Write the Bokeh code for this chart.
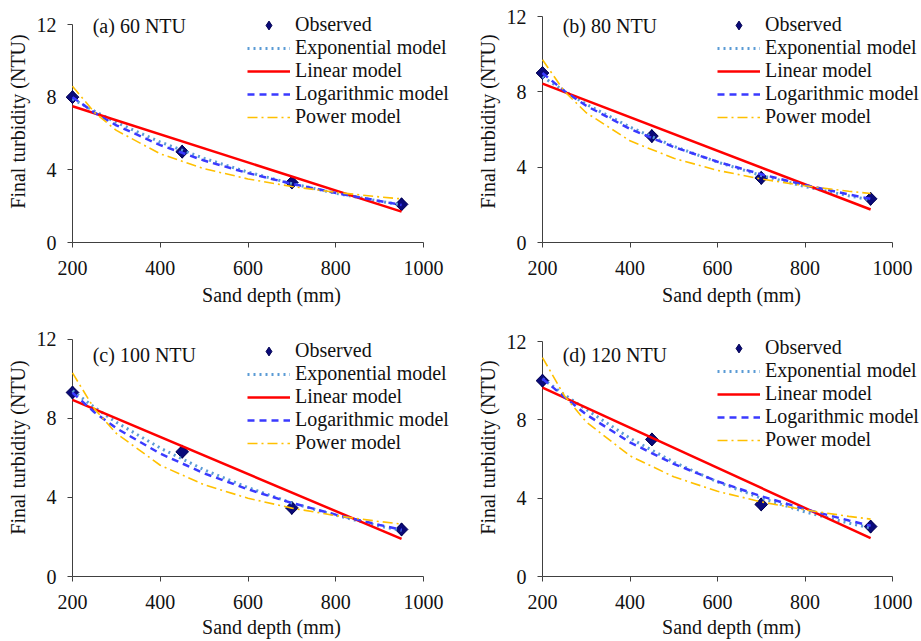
from bokeh.plotting import figure
from bokeh.models import Range1d, FixedTicker, Legend, LegendItem, Label
from bokeh.layouts import column, row
from bokeh.embed import file_html
from bokeh.resources import INLINE
import math

FONT = "Liberation Serif"

X_OBS = [200, 450, 700, 950]
X_MODEL = [200, 250, 300, 400, 500, 600, 700, 800, 900, 950]
X_LIN = [200, 950]

X_TICKS = [200, 400, 600, 800, 1000]
Y_TICKS = [0, 4, 8, 12]
X_MIN, X_MAX = 200, 1000
Y_MIN, Y_MAX = 0, 12

PANEL_TITLES = ["(a) 60 NTU", "(b) 80 NTU", "(c) 100 NTU", "(d) 120 NTU"]

OBS_A = [8.0, 5.0, 3.3, 2.1]
LIN_A = [7.5, 1.7]
EXP_A = [7.9, 7.23, 6.61, 5.53, 4.63, 3.87, 3.24, 2.71, 2.27, 2.07]
LOG_A = [8.0, 7.15, 6.45, 5.36, 4.51, 3.82, 3.23, 2.73, 2.28, 2.07]
POW_A = [8.6, 7.16, 6.17, 4.88, 4.06, 3.50, 3.08, 2.76, 2.51, 2.40]

OBS_B = [9.0, 5.65, 3.43, 2.32]
LIN_B = [8.44, 1.75]
EXP_B = [8.8, 8.04, 7.34, 6.13, 5.11, 4.27, 3.56, 2.97, 2.48, 2.26]
LOG_B = [9.0, 8.04, 7.26, 6.03, 5.07, 4.29, 3.62, 3.05, 2.55, 2.32]
POW_B = [9.7, 8.03, 6.89, 5.40, 4.47, 3.83, 3.37, 3.01, 2.72, 2.60]

OBS_C = [9.31, 6.31, 3.47, 2.38]
LIN_C = [8.94, 1.90]
EXP_C = [9.4, 8.56, 7.8, 6.5, 5.4, 4.5, 3.72, 3.1, 2.55, 2.33]
LOG_C = [9.3, 8.31, 7.5, 6.22, 5.22, 4.41, 3.72, 3.13, 2.61, 2.37]
POW_C = [10.3, 8.48, 7.24, 5.63, 4.64, 3.96, 3.46, 3.08, 2.78, 2.65]

OBS_D = [10.0, 7.0, 3.68, 2.55]
LIN_D = [9.65, 1.96]
EXP_D = [10.1, 9.28, 8.53, 7.06, 5.84, 4.83, 4.0, 3.30, 2.73, 2.48]
LOG_D = [10.1, 9.17, 8.27, 6.85, 5.75, 4.86, 4.10, 3.44, 2.86, 2.59]
POW_D = [11.18, 9.23, 7.89, 6.16, 5.09, 4.35, 3.81, 3.40, 3.07, 2.93]

AXIS_COLOR = "#404040"
TEXT_COLOR = "#111111"
OBS_FILL = "#0a0a7a"
OBS_LINE = "#000050"


def make_panel(title, obs, lin, expv, logv, powv, W, H, L, B, AW, AH,
               title_y, legend_x, legend_y, label_standoff):
    frame_w = W - L
    frame_h = H - B
    x_end = X_MIN + frame_w * (X_MAX - X_MIN) / AW
    y_end = Y_MIN + frame_h * (Y_MAX - Y_MIN) / AH
    p = figure(width=W, height=H, output_backend="svg", toolbar_location=None,
               x_range=Range1d(X_MIN, x_end), y_range=Range1d(Y_MIN, y_end),
               min_border_left=L, min_border_right=0,
               min_border_top=0, min_border_bottom=B)
    p.outline_line_color = None
    p.xgrid.visible = False
    p.ygrid.visible = False
    p.background_fill_color = "white"
    p.border_fill_color = "white"

    for ax in (p.xaxis[0], p.yaxis[0]):
        ax.axis_line_color = AXIS_COLOR
        ax.major_tick_line_color = AXIS_COLOR
        ax.minor_tick_line_color = None
        ax.major_tick_in = 0
        ax.major_tick_out = 5
        ax.major_label_text_font = FONT
        ax.major_label_text_font_size = "20px"
        ax.major_label_text_color = TEXT_COLOR
        ax.axis_label_text_font = FONT
        ax.axis_label_text_font_size = "20px"
        ax.axis_label_text_font_style = "normal"
        ax.axis_label_text_color = TEXT_COLOR
    p.xaxis.bounds = (X_MIN, X_MAX)
    p.yaxis.bounds = (Y_MIN, Y_MAX)
    p.xaxis.ticker = FixedTicker(ticks=X_TICKS)
    p.yaxis.ticker = FixedTicker(ticks=Y_TICKS)
    p.xaxis.axis_label = "Sand depth (mm)"
    p.yaxis.axis_label = "Final turbidity (NTU)"
    p.xaxis.major_label_standoff = 13
    p.xaxis.axis_label_standoff = label_standoff
    p.yaxis.major_label_standoff = 11
    p.yaxis.axis_label_standoff = 5

    # legend key (diamond), hidden underneath the rotated squares
    r_obs_key = p.scatter(X_OBS, obs, marker="diamond", size=13,
                          fill_color=OBS_FILL, line_color=OBS_LINE, line_width=1)
    r_obs_key.level = "overlay"
    r_obs = p.scatter(X_OBS, obs, marker="square", angle=math.pi / 4, size=9,
                      fill_color=OBS_FILL, line_color=OBS_LINE, line_width=1)
    r_obs.level = "overlay"
    r_exp = p.line(X_MODEL, expv, line_color="#5b9bd5", line_width=3,
                   line_dash="2 4")
    r_lin = p.line(X_LIN, lin, line_color="#ff0000", line_width=2.5)
    r_log = p.line(X_MODEL, logv, line_color="#3a3aff", line_width=2.5,
                   line_dash="7 5")
    r_pow = p.line(X_MODEL, powv, line_color="#ffc000", line_width=1.6,
                   line_dash="10 4 2 4")
    for r in (r_exp, r_lin, r_log, r_pow):
        r.level = "overlay"

    legend = Legend(items=[
        LegendItem(label="Observed", renderers=[r_obs_key]),
        LegendItem(label="Exponential model", renderers=[r_exp]),
        LegendItem(label="Linear model", renderers=[r_lin]),
        LegendItem(label="Logarithmic model", renderers=[r_log]),
        LegendItem(label="Power model", renderers=[r_pow]),
    ], location=(legend_x, legend_y))
    legend.border_line_color = None
    legend.background_fill_alpha = 0
    legend.padding = 0
    legend.margin = 0
    legend.spacing = 0
    legend.glyph_width = 43
    legend.glyph_height = 22
    legend.label_height = 22
    legend.label_standoff = 5
    legend.label_text_font = FONT
    legend.label_text_font_size = "20px"
    legend.label_text_color = TEXT_COLOR
    p.add_layout(legend, "center")

    p.add_layout(Label(x=246, y=title_y, text=title, text_font=FONT,
                       text_font_size="20px", text_baseline="middle",
                       text_color=TEXT_COLOR))
    return p


pa = make_panel(PANEL_TITLES[0], OBS_A, LIN_A, EXP_A, LOG_A, POW_A,
                470, 318, 72, 76, 351, 218, 11.89, 175, 114, 6)
pb = make_panel(PANEL_TITLES[1], OBS_B, LIN_B, EXP_B, LOG_B, POW_B,
                450, 318, 72, 76, 350, 226, 11.47, 175, 114, 6)
pc = make_panel(PANEL_TITLES[2], OBS_C, LIN_C, EXP_C, LOG_C, POW_C,
                470, 322, 72, 62, 351, 239, 11.23, 175, 122, 4)
pd = make_panel(PANEL_TITLES[3], OBS_D, LIN_D, EXP_D, LOG_D, POW_D,
                450, 322, 72, 64, 350, 235, 11.29, 175, 125, 4)

layout = column(row(pa, pb), row(pc, pd))
open("out.html", "w").write(file_html(layout, INLINE))
